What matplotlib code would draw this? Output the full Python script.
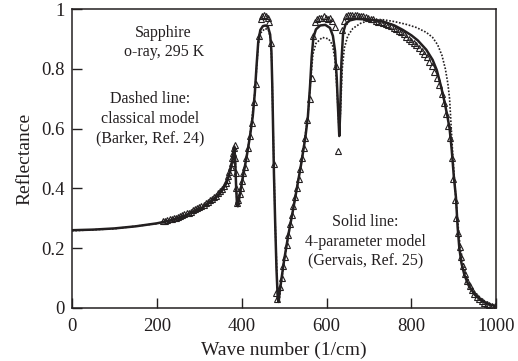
import matplotlib
matplotlib.use('Agg')
import matplotlib.pyplot as plt

# solid line: 4-parameter model (Gervais)
solid_x = [0, 50, 100, 150, 200, 230, 260, 290, 310, 330, 345, 355, 363, 369, 374, 378, 381, 383,
           385, 387, 389, 391, 395, 403, 411, 419, 426, 431, 435, 439, 444, 450, 456, 462, 467, 470,
           472, 474, 476, 479, 482, 485, 487, 490, 500, 510, 520, 530, 540, 550, 556, 561, 565, 569,
           575, 585, 597, 608, 615, 620, 624, 627, 630, 632, 635, 639, 645, 655, 670, 690, 710, 735,
           760, 780, 800, 815, 835, 850, 860, 870, 878, 885, 890, 895, 900, 905, 909, 913, 918, 925,
           935, 950, 965, 980, 1000]
solid_y = [0.260, 0.262, 0.266, 0.273, 0.283, 0.292, 0.305, 0.323, 0.338, 0.358, 0.377, 0.395, 0.415,
           0.438, 0.465, 0.495, 0.525, 0.535, 0.48, 0.40, 0.345, 0.34, 0.375, 0.44, 0.50, 0.57, 0.64,
           0.72, 0.81, 0.89, 0.93, 0.943, 0.945, 0.94, 0.915, 0.86, 0.75, 0.60, 0.45, 0.28, 0.13, 0.03,
           0.02, 0.06, 0.16, 0.245, 0.32, 0.40, 0.48, 0.57, 0.64, 0.74, 0.84, 0.905, 0.932, 0.945,
           0.947, 0.937, 0.91, 0.86, 0.77, 0.67, 0.575, 0.65, 0.82, 0.92, 0.95, 0.962, 0.967, 0.966,
           0.963, 0.957, 0.945, 0.93, 0.912, 0.895, 0.864, 0.83, 0.795, 0.74, 0.69, 0.64, 0.60, 0.53,
           0.44, 0.37, 0.27, 0.20, 0.15, 0.11, 0.075, 0.043, 0.025, 0.014, 0.005]

# dotted line: classical model (Barker)
dot_x = [0, 100, 200, 260, 310, 345, 363, 374, 381, 384, 386, 389, 392, 403, 419, 431, 439, 445, 455,
         463, 468, 471, 474, 479, 485, 488, 500, 520, 540, 556, 563, 568, 575, 590, 605, 614, 620, 625,
         630, 633, 637, 642, 650, 662, 680, 700, 730, 760, 790, 812, 835, 850, 862, 872, 880, 886, 890,
         894, 898, 903, 908, 913, 920, 930, 945, 965, 985, 1000]
dot_y = [0.258, 0.265, 0.282, 0.304, 0.337, 0.376, 0.414, 0.463, 0.52, 0.53, 0.45, 0.345, 0.345, 0.44,
         0.57, 0.72, 0.88, 0.92, 0.935, 0.93, 0.90, 0.82, 0.60, 0.28, 0.03, 0.02, 0.16, 0.32, 0.48,
         0.64, 0.77, 0.85, 0.885, 0.905, 0.90, 0.88, 0.83, 0.72, 0.58, 0.66, 0.80, 0.87, 0.91, 0.935,
         0.952, 0.962, 0.965, 0.958, 0.948, 0.938, 0.922, 0.905, 0.88, 0.845, 0.80, 0.75, 0.70, 0.60,
         0.50, 0.40, 0.31, 0.23, 0.16, 0.105, 0.06, 0.03, 0.013, 0.006]

# measured points (triangles)
tri_x = [215, 220, 225, 230, 235, 240, 245, 250, 255, 260, 265, 270, 275, 280, 285, 290, 295, 300,
         305, 310, 315, 320, 325, 330, 335, 340, 345, 350, 354, 358, 362, 365, 368, 371, 374, 376, 378,
         380, 382, 384, 385, 386, 387, 389, 392, 395, 398, 401, 404, 407, 411, 415, 419, 424, 429, 434,
         440, 445, 449, 453, 457, 461, 465, 470, 476, 481, 484, 490, 494, 498, 502, 506, 510, 514, 518,
         522, 526, 530, 534, 538, 542, 546, 550, 555, 560, 565, 568, 573, 578, 583, 588, 593, 598, 603,
         608, 614, 619, 623, 626, 636, 641, 646, 651, 656, 661, 666, 671, 676, 681, 686, 692, 698, 704,
         710, 716, 722, 728, 734, 740, 746, 752, 758, 764, 770, 776, 782, 788, 794, 800, 806, 812, 818,
         824, 830, 836, 842, 848, 854, 860, 866, 872, 877, 882, 887, 891, 895, 899, 903, 906, 910, 914,
         918, 922, 927, 932, 937, 942, 948, 954, 960, 966, 972, 978, 984, 990, 996, 1000]
tri_y = [0.290, 0.292, 0.294, 0.296, 0.298, 0.300, 0.302, 0.305, 0.307, 0.310, 0.313, 0.316, 0.319,
         0.322, 0.326, 0.330, 0.334, 0.338, 0.342, 0.346, 0.351, 0.356, 0.360, 0.365, 0.370, 0.376,
         0.383, 0.390, 0.398, 0.407, 0.418, 0.428, 0.44, 0.455, 0.47, 0.485, 0.50, 0.52, 0.535, 0.545,
         0.50, 0.45, 0.40, 0.35, 0.36, 0.38, 0.40, 0.425, 0.45, 0.47, 0.50, 0.535, 0.575, 0.62, 0.69,
         0.75, 0.91, 0.965, 0.975, 0.98, 0.975, 0.97, 0.955, 0.885, 0.48, 0.05, 0.03, 0.07, 0.10, 0.14,
         0.17, 0.21, 0.245, 0.28, 0.31, 0.34, 0.37, 0.40, 0.43, 0.465, 0.50, 0.535, 0.57, 0.63, 0.70,
         0.77, 0.91, 0.955, 0.965, 0.97, 0.97, 0.975, 0.97, 0.965, 0.97, 0.96, 0.94, 0.81, 0.525, 0.93,
         0.96, 0.975, 0.98, 0.98, 0.98, 0.98, 0.98, 0.978, 0.977, 0.975, 0.972, 0.97, 0.968, 0.965,
         0.96, 0.958, 0.955, 0.952, 0.95, 0.947, 0.943, 0.938, 0.933, 0.928, 0.922, 0.915, 0.908, 0.90,
         0.893, 0.886, 0.878, 0.87, 0.86, 0.85, 0.838, 0.824, 0.808, 0.79, 0.77, 0.745, 0.715, 0.685,
         0.65, 0.61, 0.57, 0.50, 0.43, 0.36, 0.30, 0.25, 0.205, 0.17, 0.14, 0.115, 0.09, 0.075, 0.06,
         0.048, 0.038, 0.03, 0.024, 0.018, 0.014, 0.01, 0.007, 0.005, 0.004]

ink = '#231f20'
plt.rcParams['font.family'] = ['Liberation Serif', 'DejaVu Serif']

fig = plt.figure(figsize=(5.18, 3.61), dpi=100)
ax = fig.add_axes([0.139, 0.147, 0.819, 0.828])

ax.plot(dot_x, dot_y, color=ink, linestyle=(0, (1, 1)), linewidth=1.2, zorder=2)
ax.plot(solid_x, solid_y, color=ink, linewidth=1.8, zorder=3)
ax.plot(tri_x, tri_y, linestyle='none', marker='^', markersize=5, markerfacecolor='none',
        markeredgecolor=ink, markeredgewidth=0.8, zorder=4)

ax.set_xlim(0, 1000)
ax.set_ylim(0, 1)
ax.set_xticks([0, 200, 400, 600, 800, 1000])
ax.set_yticks([0, 0.2, 0.4, 0.6, 0.8, 1])
ax.set_yticklabels(['0', '0.2', '0.4', '0.6', '0.8', '1'])
ax.tick_params(direction='in', length=7, width=1, colors=ink, labelsize=13.5)
ax.tick_params(axis='x', pad=7)
ax.tick_params(axis='y', pad=5)
for s in ax.spines.values():
    s.set_color(ink)
    s.set_linewidth(1.1)

ax.set_xlabel('Wave number (1/cm)', fontsize=14, color=ink, labelpad=5)
ax.set_ylabel('Reflectance', fontsize=14, color=ink, labelpad=6)

txt = dict(ha='center', va='center', fontsize=11.5, color=ink, linespacing=1.3)
ax.text(216, 0.888, 'Sapphire\no-ray, 295 K', **txt)
ax.text(184, 0.632, 'Dashed line:\nclassical model\n(Barker, Ref. 24)', **txt)
ax.text(692, 0.221, 'Solid line:\n4-parameter model\n(Gervais, Ref. 25)', **txt)

fig.savefig('out.png', dpi=100)
